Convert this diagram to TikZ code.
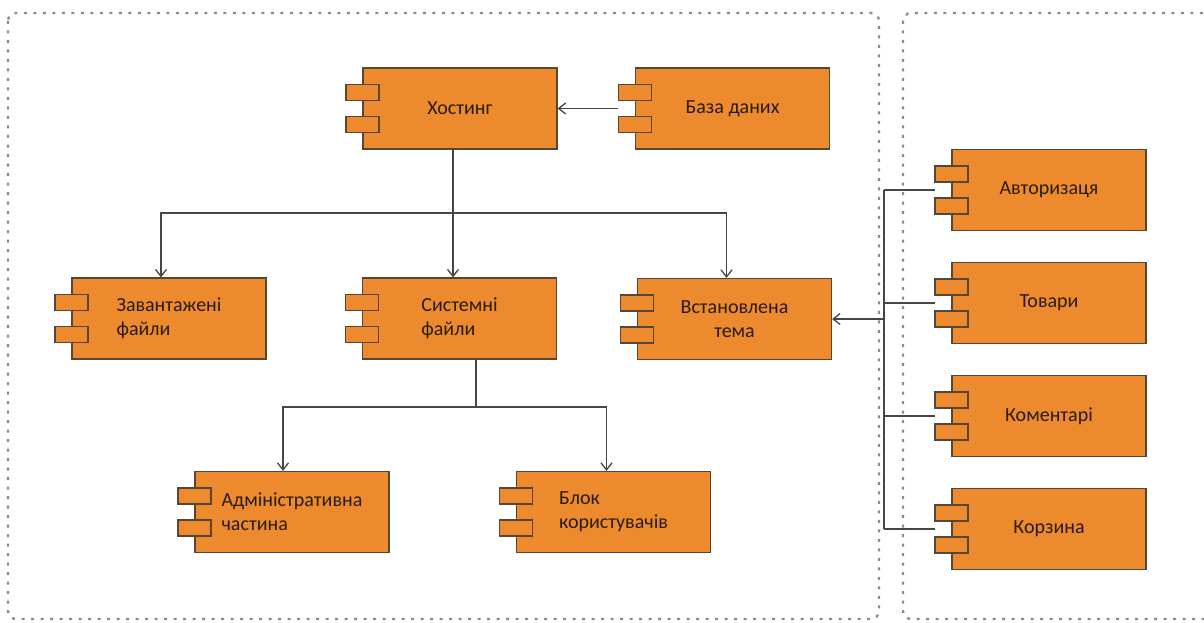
\documentclass[tikz,border=0pt]{standalone}
\usepackage{fontspec}
\setmainfont{Carlito}
\usetikzlibrary{arrows.meta, positioning}
\definecolor{compfill}{RGB}{238,138,46}
\definecolor{compline}{RGB}{88,70,52}
\definecolor{comptext}{RGB}{40,28,18}
\definecolor{wirecolor}{RGB}{70,70,70}
\definecolor{framecolor}{RGB}{140,140,140}
\tikzset{
  comp/.style={draw=compline, fill=compfill, line width=1.2pt, minimum width=194pt, minimum height=81pt,
    inner sep=0pt, align=left, text=comptext, font=\fontsize{20}{24}\selectfont},
  comptab/.style={draw=compline, fill=compfill, line width=1.2pt},
  wire/.style={draw=wirecolor, line width=1.3pt},
  arr/.style={wire, -{Straight Barb[length=7pt,width=11pt]}},
  frame/.style={draw=framecolor, line width=2.4pt, dash pattern=on 3pt off 6.5pt, rounded corners=8pt}
}
\newcommand{\umlcomp}[4][]{%
  \node[comp,#1] (#2) at (#3) {#4};
  \foreach \ty in {24,-8} \draw[comptab] ([xshift=-16.5pt,yshift=\ty pt]#2.west) rectangle ++(33pt,-16pt);
}
\begin{document}
\begin{tikzpicture}[x=1pt,y=-1pt]
    \clip (0,0) rectangle (1204,623);
    \draw[frame] (8,13) rectangle (879,619);
    \draw[frame] (903,13) rectangle (1240,619);

    \umlcomp{host}{460,108.5}{Хостинг}
    \umlcomp{db}{732.5,108.5}{База даних}
    \umlcomp{upl}{169,318.5}{Завантажені\\файли}
    \umlcomp{sys}{459.5,318.5}{Системні\\файли}
    \umlcomp[align=center]{theme}{734.5,319}{Встановлена\\тема}
    \umlcomp{admin}{292,512}{Адміністративна\\частина}
    \umlcomp{users}{613.5,512}{Блок\\користувачів}
    \umlcomp{auth}{1049,190}{Авторизаця}
    \umlcomp{goods}{1049,303}{Товари}
    \umlcomp{comm}{1049,416}{Коментарі}
    \umlcomp{cart}{1049,529}{Корзина}

    \draw[arr] ([xshift=-16.5pt]db.west) -- (host.east);

    \coordinate (hostfork) at (453,213);
    \draw[wire] ([xshift=-7pt]host.south) -- (hostfork);
    \draw[arr] (hostfork) -| ([xshift=-8pt]upl.north);
    \draw[arr] (hostfork) -- (hostfork |- sys.north);
    \draw[arr] (hostfork) -| ([xshift=-8pt]theme.north);

    \coordinate (sysfork) at (476,407);
    \draw[wire] (sys.south -| sysfork) -- (sysfork);
    \draw[arr] (sysfork) -| ([xshift=-9pt]admin.north);
    \draw[arr] (sysfork) -| ([xshift=-7pt]users.north);

    \coordinate (bus) at (884,319);
    \draw[wire] (bus |- auth) -- (bus |- cart);
    \foreach \c in {auth,goods,comm,cart} \draw[wire] (bus |- \c) -- ([xshift=-16.5pt]\c.west);
    \draw[arr] (bus) -- (theme.east);
\end{tikzpicture}
\end{document}
